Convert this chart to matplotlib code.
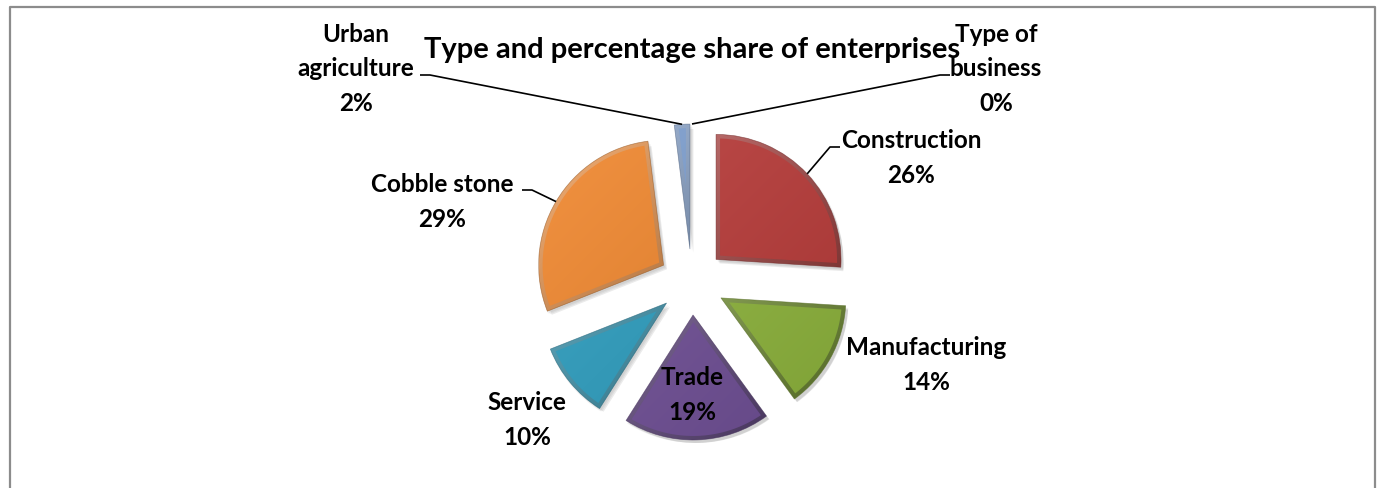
import numpy as np
import matplotlib.pyplot as plt
from matplotlib.patches import Wedge, Polygon
from matplotlib.colors import to_rgb

W, H = 1382, 489

# enterprise categories, clockwise from 12 o'clock
categories = ['Type of\nbusiness', 'Construction', 'Manufacturing', 'Trade',
              'Service', 'Cobble stone', 'Urban\nagriculture']
shares = [0, 26, 14, 19, 10, 29, 2]
colors = ['#4F81BD', '#B83C3A', '#8DB33C', '#6F4F95', '#2E9DBE', '#F08830', '#7E9FCF']

# label layout (pixel coords, y from top)
label_xy = [(996, 69), (911, 158), (926, 365), (692, 395), (527, 420), (442, 202), (356, 69)]
leader_from = [(950, 76), (840, 148), None, None, None, (522, 191), (420, 76)]

FONT = ['Lato', 'DejaVu Sans']


def px(x, y):
    return x, H - y


def shade(c, f):
    c = np.array(to_rgb(c))
    return c + (1 - c) * f if f > 0 else c * (1 + f)


def inset_poly(w, d):
    # wedge shrunk inwards by d pixels on all sides
    c = np.array(w.center)
    t1, t2 = np.radians(w.theta1), np.radians(w.theta2)
    half = (t2 - t1) / 2
    mid = t1 + half
    rr = w.r - d
    apex = c + d / np.sin(half) * np.array([np.cos(mid), np.sin(mid)])
    a = np.arcsin(d / rr)
    ts = np.linspace(t1 + a, t2 - a, 80)
    arc = c[None, :] + rr * np.c_[np.cos(ts), np.sin(ts)]
    return np.vstack([apex, arc])


def gradient(ax, clip, x0, x1, y0, y1, light, dark, z):
    n = 200
    X, Y = np.meshgrid(np.linspace(0, 1, n), np.linspace(0, 1, n))
    g = (X + (1 - Y)) / 2  # 0 at top-left, 1 at bottom-right
    img = light[None, None, :] * (1 - g[..., None]) + dark[None, None, :] * g[..., None]
    im = ax.imshow(np.clip(img, 0, 1), extent=(x0, x1, y0, y1), origin='lower',
                   interpolation='bilinear', zorder=z)
    im.set_clip_path(clip)


fig = plt.figure(figsize=(W / 100, H / 100), dpi=100)
ax = fig.add_axes([0, 0, 1, 1])

cx, cy = px(692, 283)
R = 125
# explode is an absolute offset here (data units = pixels)
wedges, _ = ax.pie(shares, explode=[33] * len(shares), startangle=90,
                   counterclock=False, radius=R, center=(cx, cy), colors=colors,
                   wedgeprops=dict(linewidth=0))

for w, col, s in zip(wedges, colors, shares):
    w.set_facecolor('none')
    if s == 0:
        continue
    wc = np.array(w.center)
    # soft drop shadow
    for k, a in enumerate([0.05, 0.06, 0.08]):
        sh = Wedge(wc + np.array([1.5 + k, -2 - k]), w.r + 1 - k, w.theta1, w.theta2,
                   facecolor='black', edgecolor='none', alpha=a, zorder=1)
        ax.add_patch(sh)
    x0, x1 = wc[0] - w.r, wc[0] + w.r
    y0, y1 = wc[1] - w.r, wc[1] + w.r
    # bevel rim
    gradient(ax, w, x0, x1, y0, y1, shade(col, 0.35), shade(col, -0.45), 2)
    # flat face
    face = Polygon(inset_poly(w, 4), closed=True, facecolor='none', edgecolor='none')
    ax.add_patch(face)
    gradient(ax, face, x0, x1, y0, y1, shade(col, 0.08), shade(col, -0.1), 3)
    edge = Wedge(wc, w.r, w.theta1, w.theta2, facecolor='none',
                 edgecolor=shade(col, -0.4), linewidth=0.5, alpha=0.6, zorder=4)
    ax.add_patch(edge)

# labels and leader lines
for w, cat, s, (lx, ly), lf in zip(wedges, categories, shares, label_xy, leader_from):
    ax.text(*px(lx, ly), f'{cat}\n{s}%', ha='center', va='center', fontsize=17.5,
            fontweight='bold', family=FONT, linespacing=1.6, zorder=6)
    if lf is None:
        continue
    mid = np.radians((w.theta1 + w.theta2) / 2)
    ex = w.center[0] + w.r * np.cos(mid)
    ey = w.center[1] + w.r * np.sin(mid)
    sx, sy = px(*lf)
    step = 10 if ex > sx else -10
    ax.plot([sx, sx + step, ex], [sy, sy, ey], color='black', lw=1.2, zorder=5,
            solid_capstyle='butt')

ax.text(*px(692, 50), 'Type and percentage share of enterprises', ha='center',
        va='center', fontsize=21, fontweight='bold', family=FONT, zorder=7)

# chart frame
ax.plot([10, 10, 1375, 1375], [-5, H - 8, H - 8, -5], color='#8C8C8C', lw=1.6)

ax.set_xlim(0, W)
ax.set_ylim(0, H)
ax.set_aspect('equal')
ax.axis('off')

fig.savefig('out.png', dpi=100)
